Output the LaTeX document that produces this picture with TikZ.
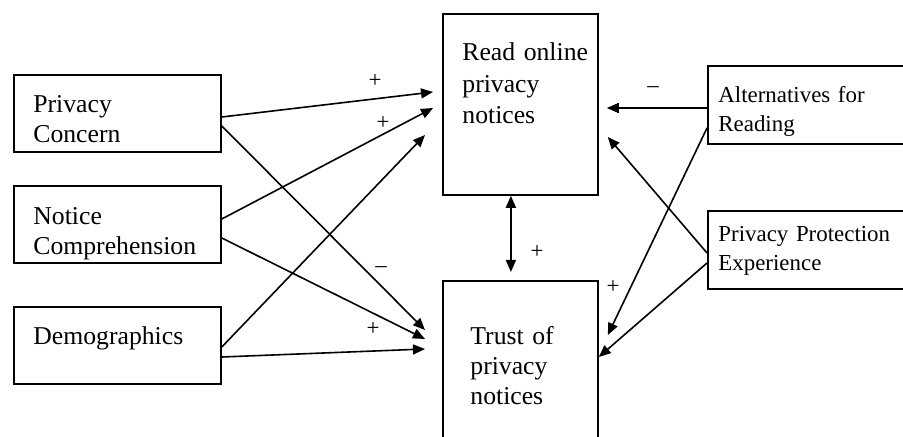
\documentclass[tikz,border=0pt]{standalone}
\usepackage{fontspec}
\setmainfont{Liberation Serif}
\usetikzlibrary{arrows.meta,calc}

\begin{document}
\begin{tikzpicture}[
x=0.5pt, y=-0.5pt,
box/.style={
draw=black,
line width=0.9pt,
anchor=north west,
inner sep=0pt,
minimum width=103.5pt,
minimum height=38.5pt
},
midbox/.style={
box,
minimum width=77.5pt,
minimum height=90.5pt
},
sidebox/.style={
box,
minimum width=106.5pt,
minimum height=39pt
},
boxtext/.style={
anchor=base west,
inner sep=0pt,
text width=#1,
align=left,
font=\fontsize{12.85}{15}\selectfont
},
sidetext/.style={
boxtext=#1,
font=\fontsize{11.45}{14.25}\selectfont
},
sign/.style={
inner sep=0pt,
font=\fontsize{11.45}{14}\selectfont
},
arrow/.style={
-{Triangle[length=6pt,width=5pt]},
line width=0.8pt
},
twoway/.style={
arrow,
{Triangle[length=6pt,width=5pt]}-{Triangle[length=6pt,width=5pt]}
}
]

\useasboundingbox (0,0) rectangle (903,437);
\clip (0,0) rectangle (903,437);

% predictors on the left
\node[box] (concern) at (13,74) {};
\node[boxtext=95pt] (concern-t) at (33,113) {Privacy\\Concern};

\node[box] (notice) at (13,185) {};
\node[boxtext=95pt] (notice-t) at (33,225) {Notice\\Comprehension};

\node[box] (demo) at (13,306) {};
\node[boxtext=95pt] (demo-t) at (33,345) {Demographics};

% the two outcomes
\node[midbox] (read) at (442,13) {};
\node[boxtext=68pt, font=\fontsize{12.85}{15.6}\selectfont] (read-t) at (462,61)
{Read online\\privacy\\notices};

\node[midbox] (trust) at (442,280) {};
\node[boxtext=64pt] (trust-t) at (470,345)
{Trust of\\privacy\\notices};

% factors on the right
\node[sidebox] (alt) at (707,65) {};
\node[sidetext=92pt] (alt-t) at (718,103) {Alternatives for\\Reading};

\node[sidebox] (prot) at (707,210) {};
\node[sidetext=92pt] (prot-t) at (718,242) {Privacy Protection\\Experience};

% paths
\draw[arrow] ($(concern.north east)+(0,43)$) -- ($(read.north west)+(-9,79)$);
\draw[arrow] ($(notice.north east)+(0,34)$) -- ($(read.north west)+(-9,95)$);
\draw[arrow] ($(demo.north east)+(0,41)$) -- ($(read.north west)+(-17,122)$);

\draw[arrow] ($(concern.north east)+(0,52)$) -- ($(trust.north west)+(-17,50)$);
\draw[arrow] ($(notice.north east)+(0,53)$) -- ($(trust.north west)+(-17,59)$);
\draw[arrow] ($(demo.north east)+(0,51)$) -- ($(trust.north west)+(-17,69)$);

\draw[arrow] ($(alt.north west)+(0,43)$) -- ($(read.north east)+(8,95)$);
\draw[arrow] ($(alt.north west)+(0,63)$) -- ($(trust.north east)+(9,55)$);
\draw[arrow] ($(prot.north west)+(0,43)$) -- ($(read.north east)+(9,124)$);
\draw[arrow] ($(prot.north west)+(0,53)$) -- ($(trust.north east)+(0,77)$);

\draw[twoway] ($(read.south)+(-9.5,0)$) -- ($(trust.north)+(-9.5,-8)$);

% signs
\node[sign] (s-concern) at (375,81) {+};
\node[sign] (s-notice) at (383,123) {+};
\node[sign] (s-neg) at (381,270) {–};
\node[sign] (s-demo) at (373,329) {+};
\node[sign] (s-alt) at (653,90) {–};
\node[sign] (s-both) at (537,252) {+};
\node[sign] (s-prot) at (613,287) {+};

\end{tikzpicture}
\end{document}
